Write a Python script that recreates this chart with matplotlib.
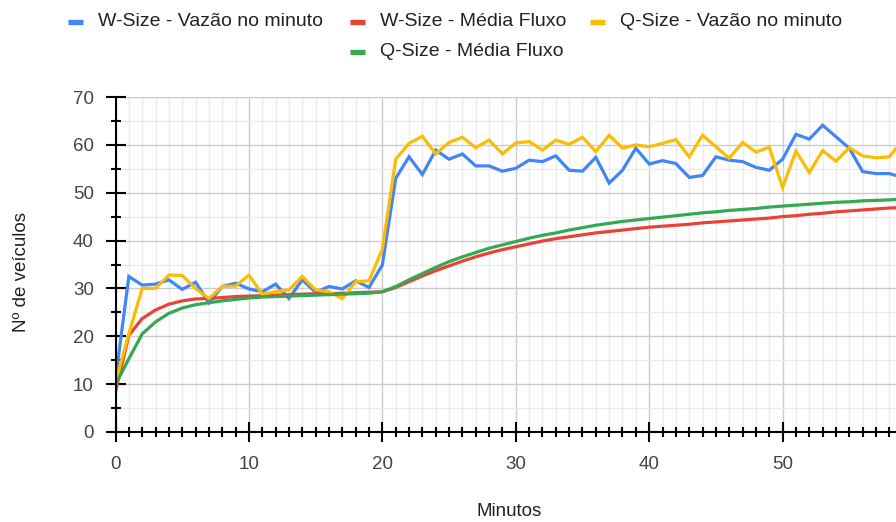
import numpy as np
import matplotlib.pyplot as plt
from matplotlib.lines import Line2D
from matplotlib.ticker import MultipleLocator

plt.rcParams['font.family'] = ['Liberation Sans', 'DejaVu Sans']

# minutes 0..59
minutos = np.arange(60)

w_vazao = [11.0, 32.5, 30.7, 30.9, 31.8, 29.8, 31.3, 27.0, 30.4, 31.1,
           29.9, 29.3, 30.9, 27.9, 31.8, 29.2, 30.4, 29.9, 31.6, 30.2,
           34.9, 53.0, 57.5, 53.8, 58.9, 57.0, 58.1, 55.6, 55.6, 54.5,
           55.1, 56.8, 56.5, 57.7, 54.7, 54.5, 57.4, 52.0, 54.7, 59.3,
           56.0, 56.7, 56.1, 53.2, 53.6, 57.5, 56.8, 56.5, 55.3, 54.7,
           57.0, 62.2, 61.2, 64.1, 61.7, 59.3, 54.4, 54.0, 54.0, 53.2]

w_media = [8.4, 20.2, 23.7, 25.5, 26.7, 27.4, 27.8, 27.9, 28.1, 28.3,
           28.4, 28.5, 28.6, 28.7, 28.8, 28.9, 28.9, 29.0, 29.1, 29.2,
           29.3, 30.2, 31.4, 32.6, 33.7, 34.7, 35.7, 36.6, 37.4, 38.1,
           38.7, 39.3, 39.9, 40.4, 40.8, 41.2, 41.6, 41.9, 42.2, 42.5,
           42.8, 43.0, 43.2, 43.4, 43.7, 43.9, 44.1, 44.3, 44.5, 44.7,
           45.0, 45.2, 45.5, 45.7, 46.0, 46.2, 46.4, 46.6, 46.8, 46.9]

q_vazao = [10.4, 20.5, 30.0, 30.0, 32.8, 32.7, 30.0, 27.9, 30.4, 30.5,
           32.8, 28.8, 29.3, 29.7, 32.5, 29.7, 29.3, 27.9, 31.4, 31.6,
           38.2, 57.0, 60.3, 61.8, 58.1, 60.5, 61.6, 59.4, 61.0, 58.1,
           60.4, 60.7, 58.9, 61.0, 60.1, 61.6, 58.6, 62.0, 59.3, 60.0,
           59.6, 60.3, 61.1, 57.5, 62.0, 59.6, 57.2, 60.5, 58.5, 59.5,
           51.1, 58.7, 54.2, 58.8, 56.6, 59.4, 57.7, 57.3, 57.5, 61.0]

q_media = [9.9, 15.3, 20.5, 23.0, 24.8, 25.9, 26.6, 27.0, 27.4, 27.7,
           28.0, 28.2, 28.3, 28.4, 28.5, 28.6, 28.7, 28.8, 28.9, 29.0,
           29.3, 30.4, 31.8, 33.1, 34.4, 35.6, 36.6, 37.5, 38.4, 39.1,
           39.8, 40.5, 41.1, 41.6, 42.2, 42.7, 43.2, 43.6, 44.0, 44.3,
           44.6, 44.9, 45.2, 45.5, 45.8, 46.0, 46.3, 46.5, 46.7, 47.0,
           47.2, 47.4, 47.6, 47.8, 48.0, 48.1, 48.3, 48.4, 48.5, 48.7]

series = [
    ("W-Size - Vazão no minuto", w_vazao, "#4285F4"),
    ("W-Size - Média Fluxo", w_media, "#EA4335"),
    ("Q-Size - Vazão no minuto", q_vazao, "#FBBC04"),
    ("Q-Size - Média Fluxo", q_media, "#34A853"),
]

W, H = 896, 522
fig = plt.figure(figsize=(W / 100, H / 100), dpi=100)
ax = fig.add_axes([115.5 / W, 1 - 432 / H, 1 - 115.5 / W, (432 - 97) / H])

for nome, valores, cor in series:
    ax.plot(minutos, valores, color=cor, lw=2.3, solid_joinstyle="miter", zorder=3)

ax.set_xlim(0, 58.5)
ax.set_ylim(0, 70)
ax.xaxis.set_major_locator(MultipleLocator(10))
ax.xaxis.set_minor_locator(MultipleLocator(1))
ax.yaxis.set_major_locator(MultipleLocator(10))
ax.yaxis.set_minor_locator(MultipleLocator(5))

ax.grid(which="major", color="#cccccc", lw=1)
ax.grid(which="minor", color="#ebebeb", lw=1)
ax.set_axisbelow(True)

for s in ("top", "right"):
    ax.spines[s].set_visible(False)
for s in ("left", "bottom"):
    ax.spines[s].set_color("black")
    ax.spines[s].set_linewidth(1.5)
    ax.spines[s].set_zorder(4)

ax.tick_params(which="major", direction="inout", length=14, width=1.5,
               color="black", labelsize=13.5, labelcolor="#444444")
ax.tick_params(which="minor", direction="inout", length=7, width=1.5, color="black")
ax.tick_params(axis="x", which="major", pad=10)
ax.tick_params(axis="y", which="major", pad=8.5)

fig.text(509 / W, 1 - 512 / H, "Minutos", ha="center", va="center",
         fontsize=13.5, color="#222222")
fig.text(22 / W, 1 - 272 / H, "Nº de veículos", ha="center", va="center",
         rotation=90, fontsize=13.5, color="#222222")

# legend, two centered rows
legenda = [
    (68, 22, series[0]),
    (350, 22, series[1]),
    (590, 22, series[2]),
    (350, 52, series[3]),
]
for x0, y0, (nome, _, cor) in legenda:
    fig.add_artist(Line2D([x0 / W, (x0 + 15) / W], [1 - y0 / H, 1 - y0 / H],
                          transform=fig.transFigure, color=cor, lw=3.8,
                          solid_capstyle="butt"))
    fig.text((x0 + 30) / W, 1 - y0 / H, nome, ha="left", va="center",
             fontsize=14, color="#222222")

fig.savefig("out.png", dpi=100)
